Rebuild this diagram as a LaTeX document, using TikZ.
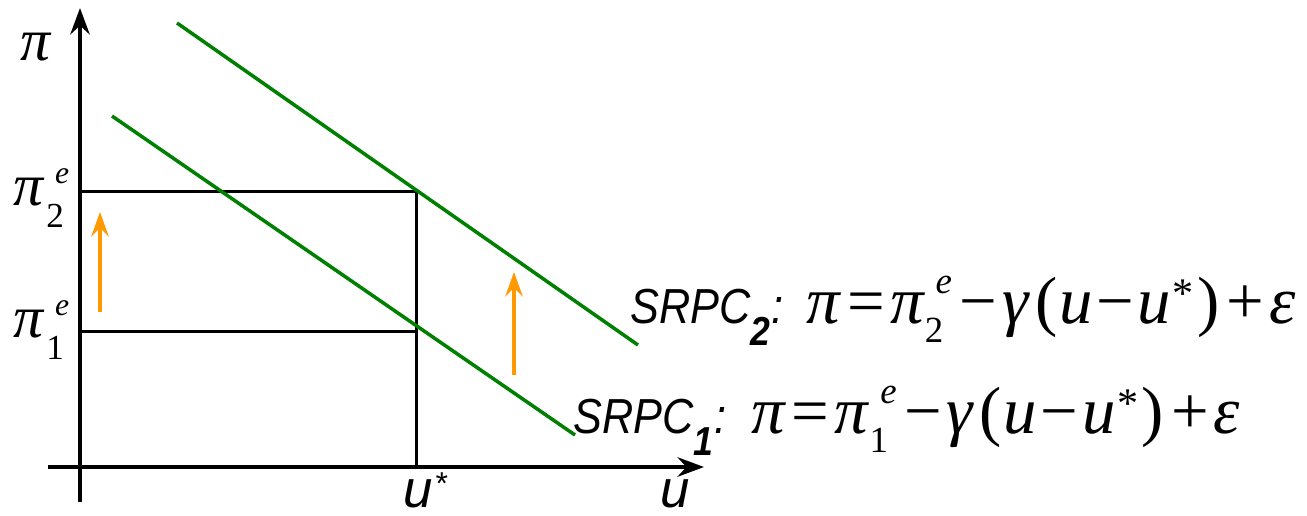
\documentclass[tikz,border=0pt]{standalone}
\usepackage{fontspec}
\usepackage{graphicx}
\setmainfont{Liberation Serif}
\newfontfamily\arialf{Liberation Sans}
\usetikzlibrary{arrows.meta}
\definecolor{lgreen}{RGB}{0,128,0}
\definecolor{lorange}{RGB}{255,153,0}
% axis label pi with sub/sup
\newcommand\axpi[1]{\textit{π}\kern1pt\rlap{\kern5pt\raisebox{12.5pt}{\fontsize{18}{18}\selectfont\textit{e}}}\raisebox{-13pt}{\fontsize{20}{20}\selectfont #1}}
% SRPC label
\newcommand\srpc[1]{\scalebox{0.88}[1]{\arialf\itshape\fontsize{28}{28}\selectfont SRPC\raisebox{-13pt}{\fontsize{23}{23}\selectfont\bfseries #1}\kern1pt:}}
% equation body
\newcommand\eqbody[1]{{\fontsize{38}{38}\selectfont\textit{π}\kern3pt=\kern3pt\textit{π}\kern0pt\rlap{\kern6pt\raisebox{17pt}{\fontsize{21}{21}\selectfont\textit{e}}}\raisebox{-11pt}{\fontsize{21}{21}\selectfont #1}\kern9pt−\kern3pt\textit{γ}\kern3pt(\kern1pt\textit{u}\kern2pt−\kern2pt\textit{u}\kern1pt\raisebox{9pt}{\fontsize{24}{24}\selectfont *}\kern2pt)\kern4pt+\kern3pt\textit{ε}}}
\begin{document}
\begin{tikzpicture}[x=0.02cm,y=-0.02cm,
  axis/.style={line width=2.6pt,-{Stealth[length=15pt,width=11pt,inset=5pt]}},
  guide/.style={line width=1.7pt},
  srpcline/.style={line width=2pt,lgreen},
  uparrow/.style={line width=1.8pt,lorange,-{Stealth[length=14pt,width=10pt,inset=5pt]}},
  lab/.style={inner sep=0pt,anchor=base west},
  txt/.style={font=\fontsize{34}{34}\selectfont}]
\useasboundingbox (0,0) rectangle (1307,515);
% axes
\coordinate (yb) at (80,502);
\coordinate (yt) at (80,8);
\coordinate (xl) at (48,467);
\coordinate (xr) at (704,467);
\draw[axis] (yb) -- (yt);
\draw[axis] (xl) -- (xr);
% guides
\coordinate (p2) at (80,191);
\coordinate (p1) at (80,331);
\coordinate (e2) at (416,191);
\coordinate (e1) at (416,331);
\coordinate (us) at (416,467);
\draw[guide] (p2) -- (e2) -- (us);
\draw[guide] (p1) -- (e1);
% SRPC lines
\coordinate (a2) at (177,23);
\coordinate (b2) at (638,345);
\coordinate (a1) at (112,116);
\coordinate (b1) at (575,435);
\draw[srpcline] (a2) -- (b2);
\draw[srpcline] (a1) -- (b1);
% shift arrows
\coordinate (o1a) at (100,312);
\coordinate (o1b) at (100,212);
\coordinate (o2a) at (514,375);
\coordinate (o2b) at (514,272);
\draw[uparrow] (o1a) -- (o1b);
\draw[uparrow] (o2a) -- (o2b);
% labels
\node[lab,txt] (pi) at (20,60) {\textit{π}};
\node[lab,txt] (pi2) at (13,205) {\axpi{2}};
\node[lab,txt] (pi1) at (13,337) {\axpi{1}};
\node[lab,font=\arialf\itshape\fontsize{30}{30}\selectfont] (ustar) at (403,507) {u\kern1pt\raisebox{7pt}{\fontsize{18}{18}\selectfont *}};
\node[lab,font=\arialf\itshape\fontsize{30}{30}\selectfont] (ulab) at (660,507) {u};
\node[lab] (eq2) at (630,323) {\srpc{2}\kern13pt\eqbody{2}};
\node[lab] (eq1) at (573,433) {\srpc{1}\kern14pt\eqbody{1}};
\end{tikzpicture}
\end{document}
